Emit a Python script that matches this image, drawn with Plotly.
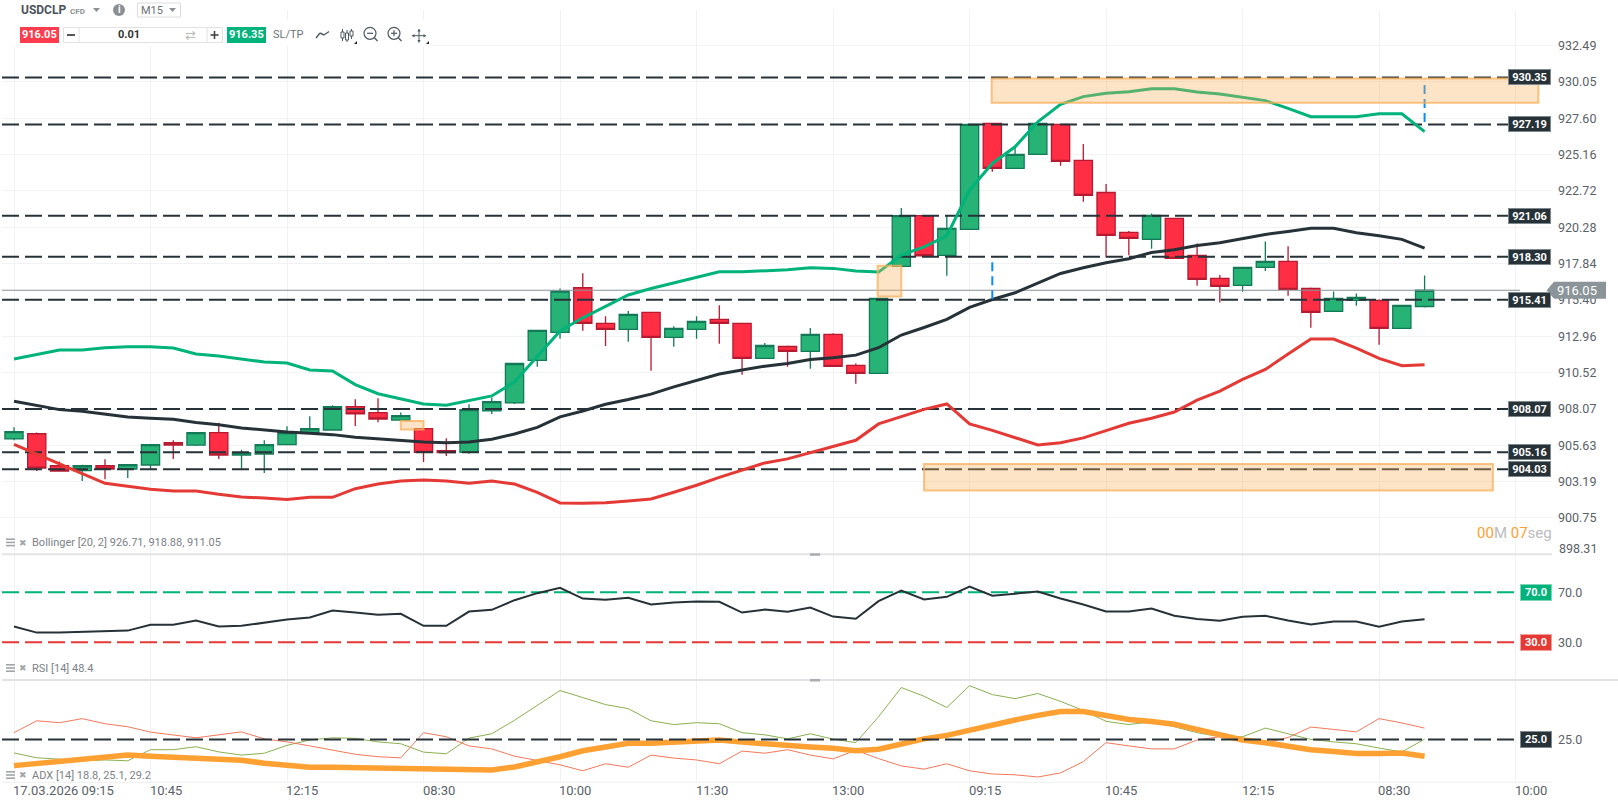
import plotly.graph_objects as go

W, H = 1618, 807

opens = [906.06,906.41,904.26,903.93,904.26,904.04,904.31,905.81,905.65,906.48,904.98,905.05,905.68,906.48,906.66,908.23,907.83,907.33,906.75,905.27,905.16,907.94,908.48,
         911.34,913.22,916.22,913.82,913.42,914.56,912.88,913.42,914.09,913.82,911.47,912.27,911.94,913.08,911.00,910.46,917.65,921.06,918.39,920.14,927.26,924.24,925.18,927.20,924.78,922.62,919.94,919.47,920.88,918.39,916.85,916.38,917.59,917.99,916.17,914.63,915.37,915.37,913.49,914.96]
highs = [906.84,906.50,904.55,904.33,904.69,904.33,905.68,905.97,906.48,907.15,905.34,905.97,906.91,907.58,908.32,908.72,908.79,907.83,906.75,906.10,908.39,908.84,911.13,
         913.35,916.17,917.20,914.31,914.65,914.56,913.64,914.31,915.05,913.82,912.50,912.34,913.51,913.17,911.13,915.50,921.57,921.06,921.06,927.20,927.26,925.69,927.26,927.20,925.87,923.19,920.03,921.21,920.88,919.20,917.07,917.59,919.33,919.00,916.24,915.97,915.84,915.43,915.03,917.05]
lows = [905.97,903.90,903.90,903.23,903.35,903.44,904.06,904.71,905.58,904.71,904.06,903.77,905.68,906.48,906.66,906.93,907.18,907.33,904.51,904.92,905.07,907.74,908.41,
        910.91,912.79,913.33,912.30,912.59,910.64,912.25,912.79,912.46,910.37,911.47,910.91,910.78,910.93,909.77,910.46,917.65,918.30,917.03,920.14,924.01,924.24,925.18,924.42,922.00,918.26,918.41,918.84,918.19,916.35,915.23,915.95,917.34,915.68,913.53,914.63,915.01,912.39,913.49,914.89]
closes = [906.55,904.10,903.90,904.26,904.04,904.33,905.68,905.65,906.48,904.98,905.14,905.68,906.48,906.75,908.23,907.74,907.40,907.63,905.16,905.14,908.03,908.57,911.13,
          913.35,915.99,913.82,913.42,914.43,912.88,913.49,913.96,913.82,911.47,912.34,911.94,913.08,910.93,910.46,915.50,921.06,918.37,920.21,927.20,924.24,925.18,927.26,924.71,922.42,919.74,919.53,921.08,918.19,916.78,916.31,917.59,917.99,916.11,914.56,915.50,915.57,913.49,915.03,916.05]

bb_upper = [911.43,911.75,912.04,912.04,912.19,912.26,912.26,912.17,911.77,911.64,911.41,911.23,911.16,910.69,910.63,909.71,909.10,908.75,908.41,908.32,908.61,908.95,909.89,
            911.58,913.31,914.20,914.94,915.73,916.17,916.55,916.96,917.29,917.29,917.36,917.43,917.56,917.52,917.34,917.27,918.41,918.97,919.71,922.78,924.57,925.69,927.37,928.54,929.06,929.28,929.39,929.59,929.59,929.37,929.24,928.99,928.79,928.27,927.71,927.71,927.71,927.91,927.91,926.71]
bb_mid = [908.59,908.30,908.03,907.92,907.72,907.54,907.45,907.38,907.16,907.02,906.80,906.66,906.53,906.44,906.35,906.17,906.06,905.97,905.86,905.81,905.86,906.04,906.39,906.84,
          907.54,907.94,908.39,908.71,909.07,909.56,910.01,910.42,910.69,910.95,911.13,911.40,911.51,911.69,912.19,913.04,913.55,914.09,914.90,915.43,915.88,916.55,917.18,917.56,917.90,918.17,918.59,918.77,919.06,919.24,919.53,919.80,920.00,920.21,920.21,919.92,919.71,919.47,918.88]
bb_lower = [905.70,905.03,904.36,903.73,903.08,902.88,902.68,902.56,902.56,902.34,902.16,902.09,902.00,902.14,902.14,902.72,903.03,903.24,903.30,903.24,903.08,903.24,903.03,902.47,
            901.76,901.74,901.78,901.89,902.03,902.48,902.95,903.48,903.95,904.45,904.72,905.14,905.59,905.97,907.07,907.54,908.05,908.41,907.07,906.64,906.15,905.66,905.81,906.13,906.62,907.11,907.45,907.87,908.67,909.27,910.06,910.73,911.76,912.77,912.77,912.16,911.47,910.98,911.05]

rsi = [42.5,37.7,37.7,38.3,38.5,39.3,43.9,43.9,47.3,42.5,43.1,45.7,48.1,49.7,55.3,53.7,51.9,52.7,43.1,43.1,54.5,55.9,63.6,69.2,73.5,64.9,63.9,65.5,60.1,61.7,62.5,62.3,53.7,56.1,54.3,57.7,50.5,48.7,62.8,71.3,64.1,66.3,74.5,67.1,68.9,70.5,64.9,60.1,54.5,54.5,56.9,51.1,48.5,47.1,50.3,51.1,47.3,44.1,46.5,46.5,42.3,46.5,48.4]

adx_plus = [20.0,18.2,17.7,17.1,17.4,17.1,21.2,21.2,22.3,20.4,19.2,19.9,22.8,24.8,25.6,25.4,24.1,23.4,20.3,19.7,25.5,27.1,32.1,37.5,43.1,40.5,37.9,36.4,31.9,30.5,31.2,30.8,27.5,26.7,25.2,27.1,25.1,23.8,33.4,44.2,41.0,36.8,44.9,41.6,40.1,42.0,39.1,35.7,31.7,30.5,31.6,29.7,27.5,26.0,26.0,29.2,27.2,25.0,24.1,23.4,21.8,20.4,25.1]
adx_minus = [27.5,31.9,31.2,32.7,30.8,29.7,27.7,26.7,25.6,26.7,27.8,25.2,24.1,22.6,21.0,19.5,18.6,18.2,27.5,26.0,22.6,21.5,18.8,17.1,15.6,13.4,16.0,14.7,19.2,18.1,17.4,16.0,20.7,19.9,21.2,19.2,17.8,21.0,17.9,15.2,14.0,16.0,13.4,12.2,11.9,11.1,12.6,16.8,23.8,22.6,21.5,21.5,24.8,26.0,25.1,23.8,25.7,29.6,28.6,27.8,32.7,31.1,29.2]
adx_main = [15.3,16.1,16.9,17.9,18.6,19.2,18.8,18.4,17.8,17.6,17.3,16.2,15.3,14.7,14.7,14.6,14.3,14.3,14.3,14.2,14.1,13.7,14.8,16.6,18.6,20.8,22.3,23.6,23.6,23.9,24.5,24.8,24.0,23.3,22.5,22.2,21.7,20.8,21.4,23.3,25.2,26.5,28.5,30.3,32.2,33.9,35.3,35.3,33.9,32.4,31.6,30.6,28.7,26.9,24.8,23.8,22.3,21.2,20.5,19.8,19.8,20.0,18.8]

levels = [930.35, 927.19, 921.06, 918.30, 915.41, 908.07, 905.16, 904.03]
level_labels = ["930.35", "927.19", "921.06", "918.30", "915.41", "908.07", "905.16", "904.03"]
bid_price = 916.05

price_ticks = [932.49,930.05,927.60,925.16,922.72,920.28,917.84,915.40,912.96,910.52,908.07,905.63,903.19,900.75,898.31]
price_tick_labels = ["932.49","930.05","927.60","925.16","922.72","920.28","917.84","915.40","912.96","910.52","908.07","905.63","903.19","900.75",""]

time_ticks = [0, 6, 12, 18, 24, 30, 36, 42, 48, 54, 60, 66]
time_labels = ["17.03.2026 09:15", "10:45", "12:15", "08:30", "10:00", "11:30", "13:00", "09:15", "10:45", "12:15", "08:30", "10:00"]

zones = [(42.97, 67.0, 928.65, 930.27), (40.0, 65.0, 902.60, 904.37), (37.96, 39.0, 915.63, 917.69), (17.0, 18.0, 906.70, 907.26)]
blue_marks = [(43, 915.45, 918.15), (62, 927.35, 930.2)]

GREEN, RED, DARK = "#00b37a", "#e53935", "#263238"
GRID = "#f1f2f3"
DASH = "17px,6px"
TEXT = "Roboto, Arial, sans-serif"

idx = list(range(len(closes)))
xl, xr = -0.5275, 67.60
lvl_end = 66.2

def px(x): return x / W
def py(y): return 1 - y / H

fig = go.Figure()
fig.add_trace(go.Candlestick(
    x=idx, open=opens, high=highs, low=lows, close=closes, whiskerwidth=0,
    increasing=dict(line=dict(color="#137a58", width=1.3), fillcolor="#27b276"),
    decreasing=dict(line=dict(color="#b51a30", width=1.3), fillcolor="#ff2e44"),
    hoverinfo="skip"))

fig.add_trace(go.Scatter(x=[xl, lvl_end], y=[bid_price, bid_price], mode="lines", line=dict(color="#87929a", width=1.2)))
for v in levels:
    fig.add_trace(go.Scatter(x=[xl, lvl_end], y=[v, v], mode="lines", line=dict(color=DARK, width=2, dash=DASH)))
for ser, col in ((bb_upper, GREEN), (bb_mid, DARK), (bb_lower, RED)):
    fig.add_trace(go.Scatter(x=idx, y=ser, mode="lines", line=dict(color=col, width=3)))
for i0, a, b in blue_marks:
    fig.add_trace(go.Scatter(x=[i0, i0], y=[a, b], mode="lines", line=dict(color="#0a8cf5", width=2, dash="9px,5px")))

for v, col in ((70, GREEN), (30, RED)):
    fig.add_trace(go.Scatter(x=[xl, lvl_end], y=[v, v], yaxis="y2", mode="lines", line=dict(color=col, width=2, dash=DASH)))
fig.add_trace(go.Scatter(x=idx, y=rsi, yaxis="y2", mode="lines", line=dict(color=DARK, width=2)))

fig.add_trace(go.Scatter(x=idx, y=adx_plus, yaxis="y3", mode="lines", line=dict(color="#8ab04f", width=1)))
fig.add_trace(go.Scatter(x=idx, y=adx_minus, yaxis="y3", mode="lines", line=dict(color="#f5785a", width=1)))
fig.add_trace(go.Scatter(x=idx, y=adx_main, yaxis="y3", mode="lines", line=dict(color="#ffa033", width=5.5)))
fig.add_trace(go.Scatter(x=[xl, lvl_end], y=[25, 25], yaxis="y3", mode="lines", line=dict(color=DARK, width=2, dash=DASH)))

shapes, notes = [], []

def rect(x0, y0, x1, y1, fill=None, line=None, lw=1):
    shapes.append(dict(type="rect", xref="paper", yref="paper", x0=px(x0), x1=px(x1), y0=py(y0), y1=py(y1),
                       fillcolor=fill or "rgba(0,0,0,0)", line=dict(color=line or "rgba(0,0,0,0)", width=lw if line else 0)))
def seg(x0, y0, x1, y1, col, lw=1):
    shapes.append(dict(type="line", xref="paper", yref="paper", x0=px(x0), x1=px(x1), y0=py(y0), y1=py(y1), line=dict(color=col, width=lw)))
def circ(cx, cy, r, fill=None, line=None, lw=1):
    shapes.append(dict(type="circle", xref="paper", yref="paper", x0=px(cx-r), x1=px(cx+r), y0=py(cy-r), y1=py(cy+r),
                       fillcolor=fill or "rgba(0,0,0,0)", line=dict(color=line or "rgba(0,0,0,0)", width=lw if line else 0)))
def poly(pts, fill):
    path = "M " + " L ".join(f"{px(a):.5f} {py(b):.5f}" for a, b in pts) + " Z"
    shapes.append(dict(type="path", xref="paper", yref="paper", path=path, fillcolor=fill, line=dict(width=0)))
def label(x, y, text, size=11, color="#777", anchor="left", **kw):
    notes.append(dict(xref="paper", yref="paper", x=px(x), y=py(y), text=text, showarrow=False, xanchor=anchor, yanchor="middle",
                      font=dict(family=TEXT, size=size, color=color), borderpad=0, **kw))

# zones drawn in data coordinates
for a, b, lo, hi in zones:
    shapes.append(dict(type="rect", xref="x", yref="y", x0=a, x1=b, y0=lo, y1=hi, fillcolor="rgba(250,175,90,0.34)",
                       line=dict(color="rgba(250,175,90,0.75)", width=2)))

# pane separators and handles
seg(2, 554.3, 1552, 554.3, "#e2e3e4", 2)
seg(2, 680, W, 680, "#e2e3e4", 2)
seg(2, 782.3, 1552, 782.3, "#eeeeee", 1)
for yy in (554.3, 680):
    rect(810, yy-1, 820, yy+1.5, fill="#a8adb2")

# toolbar background
rect(0, 0, 280, 46, fill="white")
rect(0, 20, 432, 46, fill="white")

label(20, 10.5, "<b>USDCLP</b>", 12, "#4b5359")
label(69, 11.5, "<b>CFD</b>", 8, "#8b9196")
poly([(93, 8), (100, 8), (96.5, 12)], "#8b9196")
circ(119, 10, 6, fill="#8b8f93")
label(119, 10, "<b>i</b>", 10, "white", "center")
rect(137.5, 3, 180.5, 17, fill="white", line="#dddddd")
label(152, 10.5, "M15", 11, "#6b7277", "center")
poly([(169, 8), (176, 8), (172.5, 12)], "#8b9196")
rect(20, 27, 59, 43, fill="#ff3b4e")
label(39.5, 35, "<b>916.05</b>", 11, "white", "center")
rect(63.5, 27.5, 222.5, 42.5, fill="white", line="#e2e2e2")
seg(79, 27.5, 79, 42.5, "#e2e2e2")
seg(207, 27.5, 207, 42.5, "#e2e2e2")
seg(67, 35, 75, 35, "#555", 2)
seg(210.5, 35, 218.5, 35, "#444", 1.6)
seg(214.5, 31, 214.5, 39, "#444", 1.6)
label(129, 35, "<b>0.01</b>", 11, "#333", "center")
label(190, 35.5, "⇄", 13, "#bbbbbb", "center")
rect(227, 27, 266, 43, fill=GREEN)
label(246.5, 35, "<b>916.35</b>", 11, "white", "center")
label(288, 35, "SL/TP", 11, "#6b7277", "center")

ICON = "#4f5a61"
for a, b, c, d in ((316, 38, 320, 33), (320, 33, 324, 35), (324, 35, 329, 31.5)):
    seg(a, b, c, d, ICON, 1.4)
for xc, t, b, bt, bb in ((342.5, 29, 41, 32, 38), (347, 30, 42, 33, 40), (351.5, 29, 39, 31, 36)):
    seg(xc, t, xc, b, ICON, 1)
    rect(xc-1.5, bt, xc+1.5, bb, fill="white", line=ICON, lw=1)
for xc in (370, 394):
    circ(xc, 33.3, 6, line=ICON, lw=1.2)
    seg(xc+4.2, 37.5, xc+7.5, 41, ICON, 1.4)
    seg(xc-3, 33.3, xc+3, 33.3, ICON, 1.2)
seg(394, 30.3, 394, 36.3, ICON, 1.2)
seg(412, 35.7, 426, 35.7, ICON, 1)
seg(419, 29, 419, 42.5, ICON, 1)
for tip, b1, b2 in (((412, 35.7), (414.5, 34), (414.5, 37.4)), ((426, 35.7), (423.5, 34), (423.5, 37.4)),
                    ((419, 29), (417.3, 31.5), (420.7, 31.5)), ((419, 42.5), (417.3, 40), (420.7, 40))):
    poly([tip, b1, b2], ICON)
poly([(357, 41), (357, 44), (354, 44)], "#222")
poly([(429, 41), (429, 44), (426, 44)], "#222")

# legends
for yy, txt in ((542.7, "Bollinger [20, 2] 926.71, 918.88, 911.05"), (668.3, "RSI [14] 48.4"), (775.3, "ADX [14] 18.8, 25.1, 29.2")):
    label(31, yy, txt, 11, "#7c8287")
    for k in range(3):
        seg(6, yy-3.5+k*3.2, 15, yy-3.5+k*3.2, "#a2a6a9", 1.6)
    label(23, yy, "✖", 9, "#a2a6a9", "center")

# countdown
label(1476, 533, '<span style="color:#ffa033">00</span><span style="color:#bcbcbc">M</span> <span style="color:#ffa033">07</span><span style="color:#bcbcbc">seg</span>', 15, "#ffa033")
# lowest price label sits just above the pane edge
label(1558, 548.5, "898.31", 12.5, "#5b6268")

# time labels
for t, s in zip(time_ticks, time_labels):
    notes.append(dict(xref="x", yref="paper", x=t, y=py(790.5), text=s, showarrow=False, xanchor="left", yanchor="middle", xshift=-3,
                      font=dict(family=TEXT, size=13, color="#5b6268")))

# level tags
def tag(ya, v, s, bg, w=41, x_right=1550.5, border="#7f8a90", h=14):
    notes.append(dict(xref="paper", yref=ya, x=px(x_right), y=v, text=f"<b>{s}</b>", showarrow=False, xanchor="right", yanchor="middle",
                      width=w, height=h, bgcolor=bg, bordercolor=border, borderwidth=1, borderpad=0, align="center",
                      font=dict(family=TEXT, size=11, color="white")))
for v, s in zip(levels, level_labels):
    tag("y", v, s, DARK)
tag("y2", 70, "70.0", GREEN, w=30, x_right=1552, border="#7fd6b8", h=15)
tag("y2", 30, "30.0", RED, w=30, x_right=1552, border="#f2a09e", h=15)
tag("y3", 25, "25.0", DARK, w=30, x_right=1552, border="#7f8a90", h=15)

# current-price marker
y_bid_px = 290.3
poly([(1546.7, y_bid_px), (1554, y_bid_px-8.5), (1606, y_bid_px-8.5), (1606, y_bid_px+8.5), (1554, y_bid_px+8.5)], "#8a9499")
label(1577, y_bid_px, "916.05", 13, "white", "center")

axis_common = dict(showline=False, zeroline=False, side="right", ticks="", showgrid=True, gridcolor=GRID, gridwidth=1,
                   tickfont=dict(family=TEXT, size=12.5, color="#5b6268"), ticklabelstandoff=5, fixedrange=True)

fig.update_layout(
    width=W, height=H, margin=dict(l=0, r=0, t=0, b=0, pad=0), autosize=False,
    paper_bgcolor="white", plot_bgcolor="white", showlegend=False, boxgap=0.2, boxgroupgap=0, hovermode=False,
    xaxis=dict(domain=[px(2), px(1552)], range=[xl, xr], rangeslider=dict(visible=False), tickmode="array", tickvals=time_ticks,
               showticklabels=False, showgrid=True, gridcolor=GRID, zeroline=False, showline=False, ticks="", anchor="y3"),
    yaxis=dict(domain=[py(554.3), py(10)], range=[898.31, 934.88], tickmode="array", tickvals=price_ticks, ticktext=price_tick_labels, anchor="x", **axis_common),
    yaxis2=dict(domain=[py(680), py(554.3)], range=[-0.16, 100.24], tickmode="array", tickvals=[70, 30], ticktext=["70.0", "30.0"], anchor="x", **{**axis_common, "showgrid": False}),
    yaxis3=dict(domain=[py(782.3), py(680)], range=[9.13, 47.0], tickmode="array", tickvals=[25], ticktext=["25.0"], anchor="x", **{**axis_common, "showgrid": False}),
    shapes=shapes, annotations=notes,
)

fig.write_html("out.html", config=dict(displayModeBar=False),
               post_script="document.body.style.margin='0';document.body.style.overflow='hidden';")
